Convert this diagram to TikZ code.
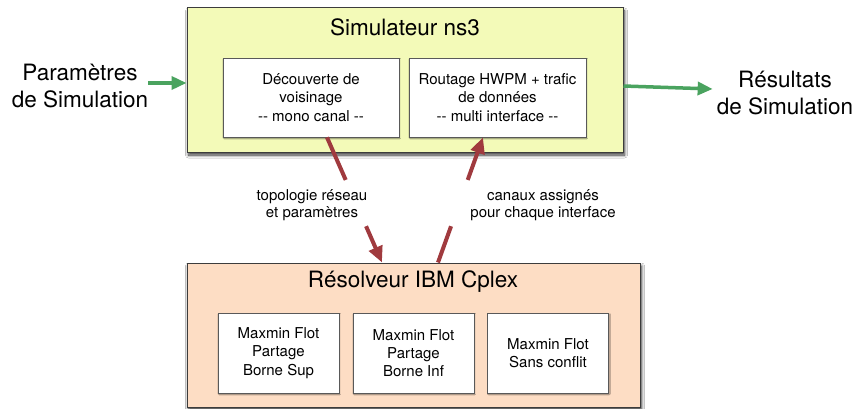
\documentclass[tikz,border=0pt]{standalone}
\usepackage{fontspec}
\setmainfont{TeX Gyre Heros}
\usetikzlibrary{arrows.meta,shadows.blur,calc}
\definecolor{simfill}{RGB}{243,250,184}
\definecolor{cpxfill}{RGB}{253,221,196}
\definecolor{arrred}{RGB}{160,58,62}
\definecolor{arrgreen}{RGB}{74,163,95}
\definecolor{edge}{RGB}{60,60,60}
\tikzset{
  bigbox/.style={draw=edge, line width=1pt, rectangle, inner sep=0pt,
    blur shadow={shadow xshift=1.5pt, shadow yshift=-3pt, shadow blur steps=8, shadow blur radius=3pt, shadow opacity=80}},
  smallbox/.style={draw=edge!85, line width=0.8pt, fill=white, rectangle, inner sep=0pt, align=center,
    font=\fontsize{15}{18.3}\selectfont,
    blur shadow={shadow xshift=0.8pt, shadow yshift=-1pt, shadow blur steps=4, shadow blur radius=1pt, shadow opacity=40}},
  bigtitle/.style={font=\fontsize{22.5}{27}\selectfont, inner sep=0pt},
  sidetext/.style={font=\fontsize{22.5}{26.5}\selectfont, align=center, inner sep=0pt},
  lbl/.style={font=\fontsize{15}{17.5}\selectfont, align=center, inner sep=0pt},
  redline/.style={draw=arrred, line width=4pt},
  redtip/.style={-{Triangle[length=16pt,width=14pt]}},
  greenarrow/.style={draw=arrgreen, line width=3.5pt, -{Triangle[length=15pt,width=13pt]}},
}
\begin{document}
\begin{tikzpicture}[x=1pt,y=-1pt]
\fill[white] (0,0) rectangle (856,409);
\useasboundingbox (0,0) rectangle (856,409);

% top box
\node[bigbox, fill=simfill, minimum width=436, minimum height=144] (sim) at (405,80) {};
\node[bigtitle] (simt) at (405,27) {Simulateur ns3};
\node[smallbox, minimum width=176, minimum height=79] (d1) at (311,97.5) {Découverte de\\voisinage\\-{}- mono canal -{}-};
\node[smallbox, minimum width=177, minimum height=79] (d2) at (497.5,97.5) {Routage HWPM + trafic\\de données\\-{}- multi interface -{}-};

% bottom box
\node[bigbox, fill=cpxfill, minimum width=453, minimum height=144] (cpx) at (413.5,335) {};
\node[bigtitle] (cpxt) at (413,282) {Résolveur IBM Cplex};
\node[smallbox, minimum width=121, minimum height=80] (m1) at (278.5,353) {Maxmin Flot\\Partage\\Borne Sup};
\node[smallbox, minimum width=121, minimum height=80] (m2) at (413.5,353) {Maxmin Flot\\Partage\\Borne Inf};
\node[smallbox, minimum width=121, minimum height=80] (m3) at (548,353) {Maxmin Flot\\Sans conflit};

% side texts
\node[sidetext] (par) at (80,86) {Paramètres\\de Simulation};
\node[sidetext] (res) at (785,93) {Résultats\\de Simulation};

\draw[greenarrow] ($(par.east)+(0,-3)$) -- ($(sim.west)+(0,3)$);
\draw[greenarrow] ($(sim.east)+(0,6)$) -- ($(res.west)+(-4,-4)$);

% red arrows
\coordinate (a1s) at ($(d1.south)+(16,0)$);
\coordinate (a1e) at ($(cpx.north)+(-31.5,0)$);
\coordinate (a2s) at ($(cpx.north)+(24.5,0)$);
\coordinate (a2e) at ($(d2.south)+(-14.5,0)$);
\draw[redline] (a1s) -- ($(a1s)!0.34!(a1e)$);
\draw[redline, redtip] ($(a1s)!0.71!(a1e)$) -- (a1e);
\draw[redline] (a2s) -- ($(a2s)!0.29!(a2e)$);
\draw[redline, redtip] ($(a2s)!0.66!(a2e)$) -- (a2e);

\node[lbl] (l1) at (312,205) {topologie réseau\\et paramètres};
\node[lbl] (l2) at (543,205) {canaux assignés\\pour chaque interface};
\end{tikzpicture}
\end{document}
